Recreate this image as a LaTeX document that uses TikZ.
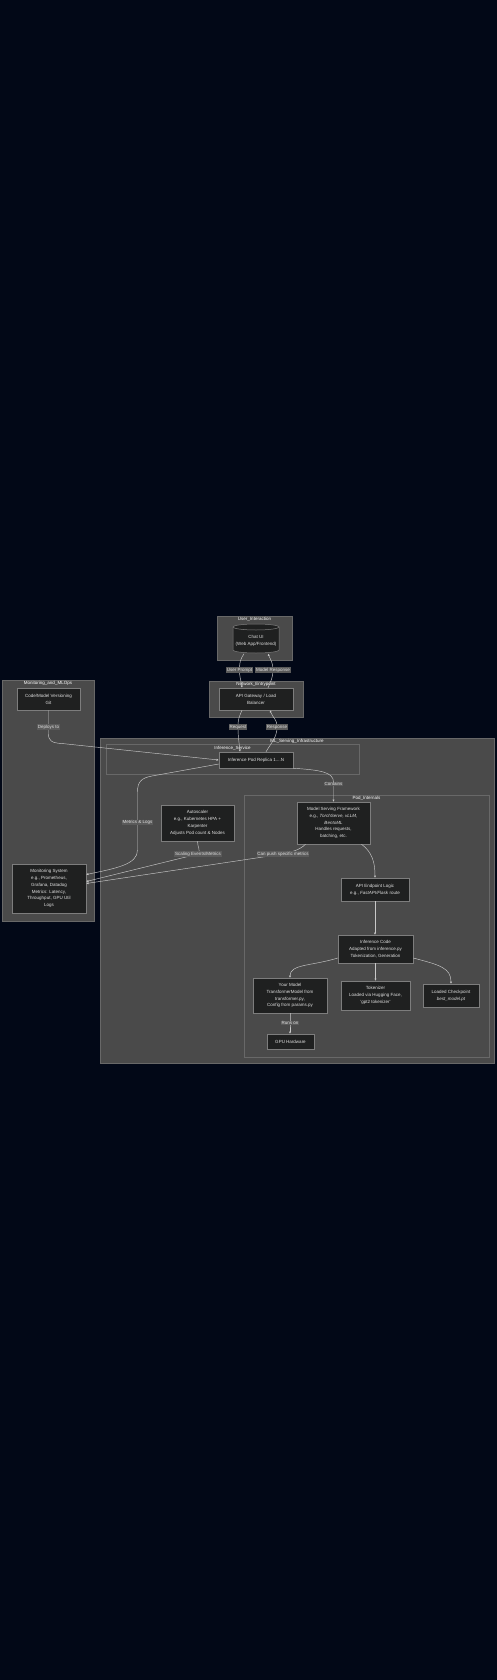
\documentclass[tikz,border=0pt]{standalone}
\usepackage{fontspec}
\setmainfont{Liberation Sans}
\usetikzlibrary{arrows.meta}
\definecolor{bgc}{RGB}{2,8,23}
\definecolor{clfill}{RGB}{74,74,74}
\definecolor{cldraw}{RGB}{104,104,104}
\definecolor{ndfill}{RGB}{31,32,32}
\definecolor{nddraw}{RGB}{125,125,125}
\definecolor{txt}{RGB}{225,225,225}
\definecolor{edgec}{RGB}{200,200,200}
\definecolor{lblbg}{RGB}{90,90,90}
\newcommand{\dfont}{\fontsize{4.5}{6.8}\selectfont}
\begin{document}
\begin{tikzpicture}[x=1pt,y=-1pt,
  cluster/.style={draw=cldraw, fill=clfill, line width=0.5pt, inner sep=0pt},
  ctitle/.style={text=white, inner sep=0pt, font=\dfont},
  box/.style={draw=nddraw, fill=ndfill, line width=0.5pt, text=txt, align=center, inner sep=0pt, font=\dfont},
  ghost/.style={text=txt, align=center, inner sep=0pt, font=\dfont},
  edge/.style={draw=edgec, line width=0.45pt, -{Latex[length=2.2pt,width=2.2pt]}},
  elabel/.style={fill=lblbg, text=txt, inner xsep=0.8pt, inner ysep=0.7pt, font=\dfont}]
\useasboundingbox (0,0) rectangle (497,1680);
\fill[bgc] (0,0) rectangle (497,1680);

% clusters
\node[cluster, minimum width=75pt, minimum height=44pt] (cUI) at (254.5,638) {};
\node[cluster, minimum width=94pt, minimum height=36pt] (cNE) at (256,699) {};
\node[cluster, minimum width=92pt, minimum height=241pt] (cMon) at (48,800.5) {};
\node[cluster, minimum width=394pt, minimum height=325pt] (cML) at (297,900.5) {};
\node[cluster, minimum width=253pt, minimum height=30pt] (cIS) at (232.5,759) {};
\node[cluster, minimum width=245pt, minimum height=262pt] (cPI) at (366.5,926) {};

\node[ctitle] (tUI) at (254.5,619.5) {User\_Interaction};
\node[ctitle] (tNE) at (256,684.5) {Network\_Entrypoint};
\node[ctitle] (tMon) at (48,683.5) {Monitoring\_and\_MLOps};
\node[ctitle] (tML) at (297,741.5) {ML\_Serving\_Infrastructure};
\node[ctitle] (tIS) at (232.5,748) {Inference\_Service};
\node[ctitle] (tPI) at (366.5,798.5) {Pod\_Internals};

% chat cylinder
\draw[draw=nddraw, fill=ndfill, line width=0.5pt] (233,627) -- (233,650)
  arc[start angle=180, end angle=360, x radius=23pt, y radius=3pt] -- (279,627)
  arc[start angle=0, end angle=180, x radius=23pt, y radius=3pt] -- cycle;
\draw[draw=nddraw, line width=0.5pt] (233,627) arc[start angle=180, end angle=360, x radius=23pt, y radius=3pt];
\node[ghost, minimum width=46pt, minimum height=26pt] (chat) at (256,640.5) {Chat UI\\(Web App/Frontend)};

% nodes
\node[box, minimum width=74pt, minimum height=22pt] (api) at (256,699) {API Gateway / Load\\Balancer};
\node[box, minimum width=63pt, minimum height=22pt] (git) at (48.5,699) {Code/Model Versioning\\Git};
\node[box, minimum width=74pt, minimum height=49pt] (monsys) at (49,888.5) {Monitoring System\\e.g., Prometheus,\\Grafana, Datadog\\Metrics: Latency,\\Throughput, GPU Util\\Logs};
\node[box, minimum width=74pt, minimum height=16pt] (pod) at (256,760) {Inference Pod Replica 1....N};
\node[box, minimum width=73pt, minimum height=36pt] (autoscaler) at (197.5,823) {Autoscaler\\e.g., Kubernetes HPA +\\Karpenter\\Adjusts Pod count \& Nodes};
\node[box, minimum width=73pt, minimum height=42pt] (msf) at (333.5,823) {Model Serving Framework\\e.g., \textit{TorchServe, vLLM,}\\\textit{BentoML}\\Handles requests,\\batching, etc.};
\node[box, minimum width=68pt, minimum height=23pt] (apiend) at (375,889.5) {API Endpoint Logic\\e.g., \textit{FastAPI/Flask} route};
\node[box, minimum width=75pt, minimum height=28pt] (infcode) at (375.5,949) {Inference Code\\Adapted from inference.py\\Tokenization, Generation};
\node[box, minimum width=74pt, minimum height=35pt] (model) at (290,995.5) {Your Model\\TransformerModel from\\transformer.py,\\Config from params.py};
\node[box, minimum width=69pt, minimum height=29pt] (tok) at (375.5,995.5) {Tokenizer\\Loaded via Hugging Face,\\'gpt2 tokenizer'};
\node[box, minimum width=56pt, minimum height=23pt] (ckpt) at (451,995.5) {Loaded Checkpoint\\\textit{best\_model.pt}};
\node[box, minimum width=47pt, minimum height=15pt] (gpu) at (290.5,1041.5) {GPU Hardware};

% label positions
\coordinate (pUP) at (239.5,670);
\coordinate (pMR) at (273,670);
\coordinate (pRq) at (238,727);
\coordinate (pRs) at (277,727);
\coordinate (pDp) at (48.5,727);
\coordinate (pML) at (137.5,822.5);
\coordinate (pSE) at (198,854);
\coordinate (pCP) at (283,854);
\coordinate (pCt) at (333.5,784);
\coordinate (pRo) at (290,1023);

% edges
\draw[edge] ([xshift=-12pt]chat.south) .. controls +(-4,6) and +(0,-7) .. (pUP) .. controls +(0,8) and +(-1,-8) .. ([xshift=-14pt]api.north);
\draw[edge] ([xshift=12pt]api.north) .. controls +(3,-7) and +(0,7) .. (pMR) .. controls +(0,-7) and +(3,7) .. ([xshift=12pt]chat.south);
\draw[edge] ([xshift=-14pt]api.south) .. controls +(-3,7) and +(0,-8) .. (pRq) .. controls +(0,10) and +(-1,-10) .. ([xshift=-16pt]pod.north);
\draw[edge] ([xshift=10pt]pod.north) .. controls +(6,-10) and +(0,10) .. (pRs) .. controls +(0,-8) and +(3,8) .. ([xshift=14pt]api.south);
\draw[edge] (git.south) -- (pDp) -- (48.5,734) .. controls (48.5,741) and (52,743) .. (62,743.5) -- (pod.west);
\draw[edge] ([yshift=-4pt]pod.west) -- (152,776) .. controls (141,778) and (137.5,782) .. (137.5,792) -- (pML) -- (137.5,850) .. controls (137.5,864) and (118,868) .. ([yshift=14pt]monsys.east);
\draw[edge] (autoscaler.south) .. controls +(0,6) and +(3,-3) .. (pSE) -- ([yshift=7pt]monsys.east);
\draw[edge] ([xshift=-28pt]msf.south) .. controls +(-6,6) and +(8,-2) .. (pCP) -- ([yshift=5pt]monsys.east);
\draw[edge] (pod.south east) .. controls (320,770) and (333.5,772) .. (333.5,782) -- (pCt) -- (msf.north);
\draw[edge] ([xshift=28pt]msf.south) .. controls (372,852) and (375,862) .. (apiend.north);
\draw[edge] (apiend.south) -- (apiend.south |- infcode.north);
\draw[edge] ([yshift=-9pt]infcode.west) .. controls (312,966) and (290,964) .. (model.north);
\draw[edge] (infcode.south) -- (infcode.south |- tok.north);
\draw[edge] ([yshift=-9pt]infcode.east) .. controls (440,965) and (451,968) .. (ckpt.north);
\draw[edge] (model.south) -- (pRo) -- (model.south |- gpu.north);

% edge labels
\node[elabel] (lUP) at (pUP) {User Prompt};
\node[elabel] (lMR) at (pMR) {Model Response};
\node[elabel] (lRq) at (pRq) {Request};
\node[elabel] (lRs) at (pRs) {Response};
\node[elabel] (lDp) at (pDp) {Deploys to};
\node[elabel] (lML) at (pML) {Metrics \& Logs};
\node[elabel] (lSE) at (pSE) {Scaling Events/Metrics};
\node[elabel] (lCP) at (pCP) {Can push specific metrics};
\node[elabel] (lCt) at (pCt) {Contains};
\node[elabel] (lRo) at (pRo) {Runs on};
\end{tikzpicture}
\end{document}
